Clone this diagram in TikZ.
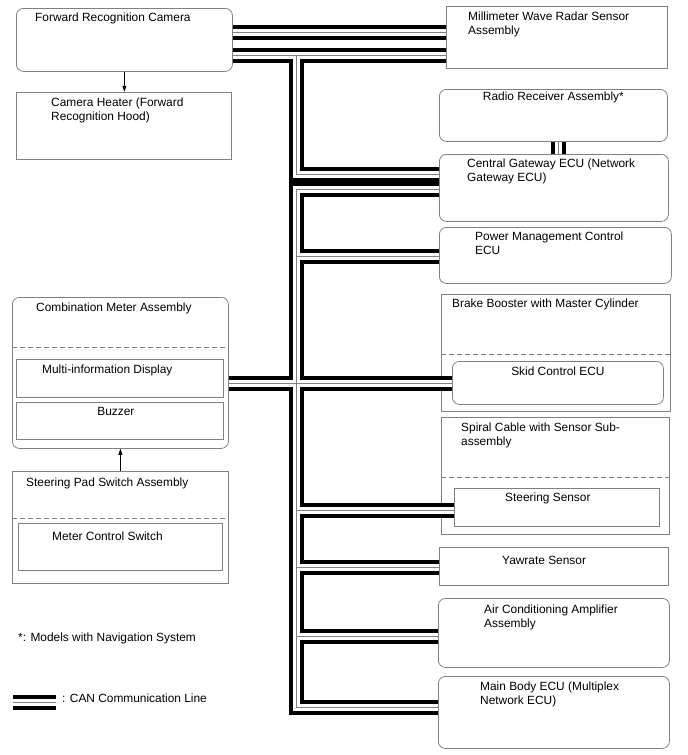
\documentclass[tikz,border=0pt]{standalone}
\usepackage{fontspec}
\setmainfont{Liberation Sans}
\usetikzlibrary{arrows.meta, positioning}
\tikzset{
  unit/.style={draw=gray, anchor=north west, inner sep=0pt, line width=0.8pt},
  ecu/.style={unit, rounded corners=7pt},
  caption/.style={anchor=north west, inner sep=0pt, align=left,
                  font=\fontsize{11.9}{14}\selectfont},
  divider/.style={draw=gray, dash pattern=on 5pt off 3pt, line width=0.8pt},
  sig/.style={-{Triangle[length=6pt, width=4pt]}, line width=0.7pt},
  canline/.style={draw=white, line width=7pt,
                  preaction={draw=black, line width=15pt},
                  postaction={draw=gray, line width=1pt}},
}

\begin{document}
\begin{tikzpicture}[x=1pt, y=-1pt]
  \useasboundingbox (0,0) rectangle (688,755);

  % left column
  \node[ecu, minimum width=216pt, minimum height=63pt,
        label={[caption, xshift=19pt, yshift=-5pt]north west:Forward Recognition Camera}]
        (cam) at (16,8) {};
  \node[unit, minimum width=215pt, minimum height=67pt, below right=20pt and 0pt of cam.south west,
        label={[caption, xshift=35pt, yshift=-6pt]north west:Camera Heater (Forward\\Recognition Hood)}]
        (heater) {};

  \node[ecu, minimum width=216pt, minimum height=151pt,
        label={[caption, xshift=24pt, yshift=-6pt]north west:Combination Meter Assembly}]
        (meter) at (12,297) {};
  \node[unit, minimum width=207pt, minimum height=38pt,
        label={[caption, xshift=26pt, yshift=-6pt]north west:Multi-information Display}]
        (mid) at (16,359) {};
  \node[unit, minimum width=207pt, minimum height=37pt,
        label={[caption, anchor=north, xshift=-4pt, yshift=-5pt]north:Buzzer}]
        (buzzer) at (16,402) {};

  \node[unit, minimum width=216pt, minimum height=112pt, below right=22pt and 0pt of meter.south west,
        label={[caption, xshift=14pt, yshift=-7pt]north west:Steering Pad Switch Assembly}]
        (pad) {};
  \node[unit, minimum width=204pt, minimum height=47pt,
        label={[caption, xshift=34pt, yshift=-9pt]north west:Meter Control Switch}]
        (mcs) at (18,523) {};

  % right column
  \node[unit, minimum width=221pt, minimum height=62pt,
        label={[caption, xshift=22pt, yshift=-6pt]north west:Millimeter Wave Radar Sensor\\Assembly}]
        (radar) at (446,6) {};
  \node[ecu, minimum width=228pt, minimum height=52pt,
        label={[caption, anchor=north, yshift=-3pt]north:Radio Receiver Assembly*}]
        (radio) at (439,89) {};
  \node[ecu, minimum width=229pt, minimum height=67pt,
        label={[caption, xshift=28pt, yshift=-5pt]north west:Central Gateway ECU (Network\\Gateway ECU)}]
        (gw) at (439,154) {};
  \node[ecu, minimum width=232pt, minimum height=56pt,
        label={[caption, xshift=36pt, yshift=-5pt]north west:Power Management Control\\ECU}]
        (pm) at (439,227) {};

  \node[unit, minimum width=229pt, minimum height=117pt,
        label={[caption, xshift=11pt, yshift=-5pt]north west:Brake Booster with Master Cylinder}]
        (brake) at (441,294) {};
  \node[ecu, minimum width=211pt, minimum height=43pt,
        label={[caption, anchor=north, yshift=-6pt]north:Skid Control ECU}]
        (skid) at (452,361) {};

  \node[unit, minimum width=228pt, minimum height=117pt,
        label={[caption, xshift=20pt, yshift=-6pt]north west:Spiral Cable with Sensor Sub-\\assembly}]
        (spiral) at (441,417) {};
  \node[unit, minimum width=205pt, minimum height=38pt,
        label={[caption, xshift=51pt, yshift=-5pt]north west:Steering Sensor}]
        (ssensor) at (454,488) {};

  \node[unit, minimum width=229pt, minimum height=38pt,
        label={[caption, xshift=63pt, yshift=-9pt]north west:Yawrate Sensor}]
        (yaw) at (439,547) {};
  \node[ecu, minimum width=231pt, minimum height=69pt,
        label={[caption, xshift=46pt, yshift=-7pt]north west:Air Conditioning Amplifier\\Assembly}]
        (ac) at (438,598) {};
  \node[ecu, minimum width=231pt, minimum height=72pt,
        label={[caption, xshift=42pt, yshift=-6pt]north west:Main Body ECU (Multiplex\\Network ECU)}]
        (mainecu) at (438,676) {};

  % dashed splits inside the assemblies
  \draw[divider] (meter.west |- 0,347) -- (meter.east |- 0,347);
  \draw[divider] (pad.west |- 0,518) -- (pad.east |- 0,518);
  \draw[divider] (brake.west |- 0,354) -- (brake.east |- 0,354);
  \draw[divider] (spiral.west |- 0,477) -- (spiral.east |- 0,477);

  \draw[sig] (cam.south) -- (cam.south |- heater.north);
  \draw[sig] (pad.north) -- (meter.south);

  % CAN bus
  \coordinate (c0) at (296,32);
  \coordinate (t0) at (296,55);
  \coordinate (t1) at (296,174);
  \coordinate (t2) at (296,189);
  \coordinate (t3) at (296,256);
  \coordinate (t4) at (296,383);
  \coordinate (t5) at (296,510);
  \coordinate (t6) at (296,567);
  \coordinate (t7) at (296,636);
  \coordinate (t8) at (296,707);
  \coordinate (r0) at (558,0);

  \draw[canline]
    (c0 -| cam.east) -- (c0 -| radar.west)
    (t0 -| cam.east) -- (t0 -| radar.west)
    (t0) -- (t1) -- (t1 -| gw.west)
    (r0 |- radio.south) -- (r0 |- gw.north)
    (t2 -| gw.west) -- (t2) -- (t8) -- (t8 -| mainecu.west)
    (t3) -- (t3 -| pm.west)
    (t4 -| meter.east) -- (t4 -| skid.west)
    (t5) -- (t5 -| ssensor.west)
    (t6) -- (t6 -| yaw.west)
    (t7) -- (t7 -| ac.west);

  % notes
  \node[caption] (note) at (18,633) {*: Models with Navigation System};
  \coordinate (leg-a) at (13,702);
  \coordinate (leg-b) at (56,702);
  \draw[canline] (leg-a) -- (leg-b);
  \node[caption] (leg) at (62,694) {: CAN Communication Line};
\end{tikzpicture}
\end{document}
